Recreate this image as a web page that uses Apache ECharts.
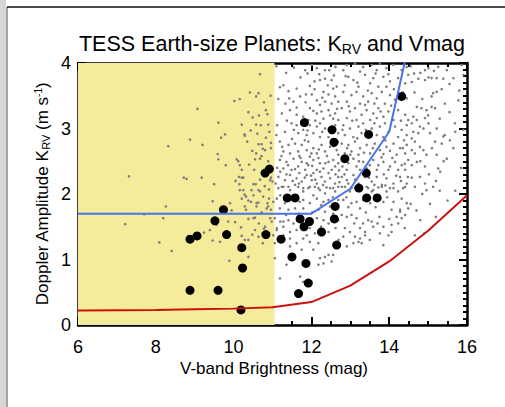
<!DOCTYPE html>
<html><head><meta charset="utf-8">
<script src="https://cdn.jsdelivr.net/npm/echarts@6/dist/echarts.min.js"></script>
<style>html,body{margin:0;padding:0;background:#fff}#c{width:505px;height:407px}</style>
</head><body><div id="c"></div>
<script>
// ---------- DATA ----------
const xTickValues = [6, 8, 10, 12, 14, 16];
const yTickValues = [0, 1, 2, 3, 4];
const shadeRange = [6, 11.05];

const hiresMag = [6, 7, 8, 9, 10, 11, 12, 13, 14, 15];
const hiresK   = [1.7, 1.7, 1.7, 1.7, 1.7, 1.7, 1.7, 2.08, 2.95, 5.6];

const kpfMag = [6, 7, 8, 9, 10, 11, 12, 13, 14, 15, 16];
const kpfK   = [0.22, 0.225, 0.23, 0.24, 0.25, 0.27, 0.35, 0.6, 0.97, 1.44, 1.98];

const earths = [[8.88,1.31],[9.06,1.36],[9.52,1.59],[9.74,1.76],[9.82,1.38],[10.21,1.18],[10.23,0.87],[8.88,0.53],[9.60,0.53],[10.19,0.23],[10.83,1.38],[11.22,1.31],[10.81,2.32],[10.92,2.38],[11.82,3.09],[12.53,2.98],[12.58,2.79],[13.47,2.91],[12.86,2.54],[14.32,3.49],[13.41,2.32],[13.22,2.09],[11.38,1.94],[11.58,1.94],[13.42,1.94],[13.69,1.94],[12.61,1.81],[11.71,1.62],[11.95,1.58],[11.81,1.50],[12.59,1.62],[12.26,1.42],[12.65,1.22],[11.50,1.04],[11.86,0.94],[11.92,0.64],[11.67,0.48]];

const superBright = [[7.21,1.54],[7.70,1.69],[8.26,1.81],[8.19,1.63],[8.09,1.26],[8.41,1.13],[8.32,2.73],[8.88,2.83],[7.31,2.27],[9.07,3.30],[9.20,2.75],[8.72,2.25],[8.79,2.23],[9.18,2.25],[9.24,1.41],[11.06,1.02],[11.11,1.45],
[10.68,3.83],[10.64,3.54],[10.58,3.49],[10.16,3.45],[10.02,3.42],[10.83,3.28],[10.87,3.22],[10.38,3.25],[10.49,3.17],[9.61,3.09],[10.21,3.06],[10.58,3.06],[10.70,3.05],[10.89,3.06],[10.44,2.97],[10.28,2.91],[10.29,2.89],[9.78,2.91],[9.68,2.86],[10.61,2.92],[10.83,2.86],[10.72,2.76],[10.64,2.76],[10.96,2.78],[10.48,2.66],[10.81,2.67],[10.75,2.69],[9.59,2.61],[10.96,2.70],[10.72,2.58],[10.68,2.54],[10.55,2.53],[10.08,2.53],[10.12,2.50],[9.61,2.53],[9.80,2.44],[10.16,2.44],[10.89,2.50],[10.21,2.37],[10.53,2.37],[10.14,2.26],[10.21,2.25],[10.25,2.25],[10.72,2.32],[10.96,2.25],[11.00,2.19],[9.50,2.15],[10.15,2.15],[10.51,2.15],[10.57,2.15],[10.94,2.21],[10.16,2.06],[10.25,2.06],[10.46,2.06],[10.64,2.06],[10.68,2.04],[10.91,2.07],[10.28,1.99],[10.32,1.96],[10.51,1.98],[10.76,1.96],[10.91,1.93],[10.21,1.93],[9.46,1.89],[9.91,1.86],[10.38,1.90],[10.59,1.86],[10.64,1.87],[10.87,1.86],[11.02,1.88],[10.89,1.81],[10.85,1.78],[10.29,1.81],[10.32,1.76],[10.59,1.81],[10.96,1.76],[10.51,1.63],[10.55,1.64],[10.94,1.63],[10.98,1.58],[10.04,1.57],[9.86,1.58],[10.81,1.50],[10.78,1.47],[10.19,1.49],[9.56,1.53],[9.39,1.45],[10.55,1.45],[10.29,1.30],[10.38,1.30],[9.46,1.29],[9.65,1.27],[10.21,1.36],[10.64,1.35],[10.38,1.04],[9.89,0.98],
[10.42,3.55],[10.78,3.40],[10.95,3.50],[10.65,3.20],[10.92,2.95],[10.35,2.80],[10.58,2.62],[10.86,2.40],[10.40,2.45],[10.68,2.22],[10.80,2.12],[10.45,1.88],[10.72,1.72],[10.38,1.62],[10.65,1.55],[10.90,1.40],[10.48,1.38],[10.75,1.25],[10.05,2.20],[9.95,1.75]];

const superMidHigh = [[11.84,3.89],[12.14,3.92],[12.35,3.89],[12.46,3.89],[12.20,3.83],[12.58,3.81],[12.01,3.97],
[11.28,3.66],[11.19,3.63],[12.22,3.74],[12.35,3.76],[12.52,3.74],[11.41,3.57],[11.62,3.61],[11.96,3.65],[12.65,3.64],[12.56,3.61],
[11.71,3.49],[11.86,3.52],[12.01,3.52],[12.31,3.56],[12.44,3.52],[12.61,3.49],[12.14,3.43],[12.35,3.41],[12.52,3.38],[11.54,3.41],[11.43,3.46],[12.22,3.36],[12.69,3.41],
[11.24,3.23],[11.96,3.31],[12.05,3.27],[12.14,3.23],[12.26,3.26],[12.44,3.28],[12.61,3.23],[11.79,3.18],[11.92,3.13],[12.31,3.15],[12.56,3.15],[11.62,3.21],[11.45,3.28],[12.69,3.13],
[11.49,3.08],[11.62,3.05],[11.96,3.05],[12.14,3.03],[12.22,3.08],[12.35,3.00],[12.61,3.05],[11.32,2.95],[11.66,2.93],[11.88,2.90],[12.05,2.93],[12.22,2.87],[12.44,2.87],[12.69,2.93],[11.79,2.98],
[11.19,2.80],[11.41,2.75],[11.58,2.77],[11.75,2.75],[11.92,2.80],[12.05,2.70],[12.26,2.75],[12.35,2.65],[12.65,2.67],[11.28,2.65],[11.45,2.62],[11.66,2.65],[11.88,2.67],[12.14,2.62],[12.48,2.72],[12.69,2.60],
[11.19,2.52],[11.36,2.49],[11.54,2.54],[11.75,2.49],[11.92,2.44],[12.05,2.52],[12.22,2.47],[12.31,2.39],[12.44,2.49],[12.61,2.42],[11.28,2.39],[11.49,2.37],[11.66,2.42],[11.84,2.37],[12.14,2.37],[12.52,2.37],[12.69,2.47],[11.96,2.57],
[11.15,2.26],[11.32,2.21],[11.45,2.29],[11.62,2.24],[11.75,2.19],[11.88,2.29],[12.01,2.21],[12.14,2.16],[12.26,2.26],[12.35,2.19],[12.48,2.24],[12.61,2.16],[12.69,2.26],[11.24,2.11],[11.41,2.11],[11.58,2.14],[11.79,2.09],[11.96,2.11],[12.18,2.09],[12.39,2.10],[12.56,2.09],[12.05,2.32],[12.22,2.34],[11.69,2.32],
[11.10,3.95],[11.35,3.85],[11.55,3.93],[11.72,3.78],[11.90,3.84],[12.08,3.72],[12.42,3.66],[12.62,3.94],
[11.15,3.45],[11.33,3.38],[11.62,3.32],[11.85,3.40],[12.08,3.60],[12.28,3.47],[12.48,3.20],[12.66,3.30],
[11.12,3.05],[11.37,3.12],[11.55,2.98],[11.74,3.06],[11.90,2.97],[12.10,3.12],[12.28,2.95],[12.50,3.02],[12.68,2.80],
[11.10,2.90],[11.25,2.72],[11.50,2.84],[11.69,2.58],[11.83,2.82],[12.00,2.62],[12.19,2.68],[12.40,2.58],[12.57,2.73],
[11.12,2.40],[11.23,2.58],[11.40,2.44],[11.58,2.38],[11.72,2.55],[11.88,2.47],[12.02,2.43],[12.18,2.55],[12.36,2.47],[12.56,2.52],[12.71,2.36],
[11.08,2.16],[11.20,2.34],[11.36,2.30],[11.52,2.20],[11.68,2.16],[11.83,2.25],[11.99,2.28],[12.10,2.22],[12.30,2.14],[12.44,2.32],[12.62,2.30],[12.72,2.18]];

const superFaintHigh = [[12.91,3.97],[13.12,3.99],[13.33,3.94],[13.55,3.97],[13.76,3.99],[13.93,3.92],[14.11,3.97],[14.32,3.89],[12.82,3.89],[13.25,3.87],[13.68,3.89],[14.45,3.94],
[12.95,3.79],[13.08,3.74],[13.38,3.82],[13.59,3.77],[13.85,3.79],[14.02,3.72],[14.23,3.77],[12.86,3.66],[13.21,3.64],[13.51,3.69],[13.72,3.64],[13.93,3.64],[14.41,3.69],[14.49,3.82],
[12.82,3.56],[13.03,3.51],[13.16,3.56],[13.33,3.49],[13.55,3.54],[13.68,3.46],[13.81,3.56],[14.02,3.51],[14.15,3.44],[14.45,3.46],[12.91,3.41],[13.25,3.38],[13.46,3.41],[13.89,3.38],
[12.78,3.31],[12.99,3.26],[13.12,3.31],[13.29,3.21],[13.42,3.28],[13.59,3.23],[13.72,3.31],[13.85,3.18],[13.98,3.26],[14.23,3.28],[14.41,3.21],[12.91,3.16],[13.16,3.13],[13.51,3.13],[13.68,3.16],[14.11,3.13],[14.49,3.13],
[12.82,3.05],[12.99,3.00],[13.21,3.03],[13.33,3.08],[13.55,3.00],[13.76,3.03],[13.89,3.08],[14.15,3.03],[14.32,2.98],[14.45,3.05],[12.86,2.90],[13.08,2.87],[13.29,2.93],[13.68,2.90],[13.85,2.87],[14.23,2.87],[14.45,2.90],[13.46,2.87],
[12.78,2.77],[12.95,2.75],[13.12,2.80],[13.25,2.70],[13.42,2.75],[13.63,2.77],[13.76,2.67],[13.93,2.72],[14.11,2.77],[14.28,2.70],[14.45,2.75],[12.86,2.62],[13.03,2.65],[13.51,2.62],[13.85,2.61],[14.19,2.60],[14.41,2.62],[13.21,2.60],
[12.82,2.52],[12.95,2.47],[13.08,2.54],[13.16,2.42],[13.33,2.49],[13.59,2.52],[13.72,2.44],[13.85,2.49],[14.02,2.42],[14.15,2.49],[14.32,2.44],[14.49,2.52],[12.91,2.37],[13.25,2.37],[13.42,2.39],[13.68,2.37],[13.98,2.37],[14.23,2.37],[14.41,2.37],
[12.78,2.26],[12.91,2.21],[13.08,2.29],[13.21,2.16],[13.38,2.26],[13.55,2.19],[13.68,2.26],[13.81,2.14],[13.93,2.24],[14.11,2.16],[14.28,2.26],[14.45,2.16],[12.86,2.11],[13.03,2.09],[13.46,2.09],[13.72,2.10],[14.02,2.09],[14.36,2.09],[13.29,2.11],
[12.88,3.80],[13.18,3.70],[13.45,3.58],[13.65,3.84],[13.98,3.83],[14.12,3.60],[14.35,3.55],
[12.96,3.34],[13.38,3.36],[13.62,3.38],[13.78,3.26],[14.05,3.35],[14.30,3.12],
[12.80,2.98],[13.05,3.12],[13.40,2.98],[13.62,3.08],[13.98,2.95],[14.38,2.82],
[12.92,2.70],[13.18,2.85],[13.35,2.63],[13.58,2.70],[13.90,2.82],[14.02,2.66],[14.35,2.70],
[12.80,2.42],[13.00,2.60],[13.22,2.50],[13.50,2.44],[13.80,2.56],[14.08,2.55],[14.40,2.46],
[12.85,2.30],[13.12,2.22],[13.32,2.33],[13.48,2.25],[13.62,2.14],[13.86,2.30],[14.18,2.28],[14.48,2.26],
[12.95,2.16],[13.15,2.06],[13.55,2.04],[13.90,2.13],[14.30,2.20]];

const superFaintest = [[14.58,4.02],[14.71,4.01],[14.92,3.89],[15.01,3.92],[15.26,3.94],[15.48,3.89],[15.65,4.02],[15.86,3.97],[14.64,3.84],[14.75,3.76],[14.92,3.74],[15.01,3.78],[15.09,3.77],[15.22,3.77],[15.39,3.76],[15.65,3.77],[14.58,3.71],[15.13,3.54],[15.09,3.49],[15.22,3.56],[15.43,3.38],[15.78,3.43],[14.71,3.33],[14.83,3.31],[14.96,3.28],[15.09,3.33],[15.18,3.31],[14.62,3.18],[14.71,3.13],[14.92,3.16],[15.69,3.08],[14.58,3.08],[14.79,3.03],[14.88,3.00],[15.01,3.08],[15.22,3.00],[14.75,2.93],[15.05,2.93],[15.39,2.88],[15.43,2.90],[15.91,2.98],[14.58,2.85],[14.66,2.80],[15.18,2.80],[15.35,2.77],[15.56,2.82],[14.79,2.72],[14.88,2.67],[15.65,2.70],[14.58,2.67],[14.66,2.62],[14.96,2.60],[15.22,2.60],[15.48,2.54],[14.71,2.49],[14.92,2.42],[15.26,2.39],[15.31,2.34],[14.79,2.26],[14.92,2.16],[14.66,2.11],[15.13,2.11],[14.58,2.44],[15.91,3.82],
[14.40,1.48],[14.66,1.37],[14.80,1.60],[14.96,2.06],[14.70,1.75],[14.90,1.40],[15.20,1.65],[15.50,1.90],[15.30,2.05],[14.85,2.00],[14.55,1.85],[15.05,1.85],[15.70,2.05],
[14.55,3.95],[14.80,3.85],[15.15,3.88],[15.35,3.60],[15.55,3.68],[15.80,3.58],[14.65,3.55],[14.85,3.45],[15.00,3.20],[15.30,3.15],[15.55,3.25],[14.62,2.95],[15.10,2.70],[15.70,2.95],[14.80,2.50],[15.40,2.50],[15.02,2.30],[14.58,2.25],[15.85,2.40],[15.20,2.20]];

const superLow = [[11.15,2.09],[11.28,2.11],[11.45,2.06],[11.66,2.11],[11.79,2.04],[11.92,2.09],[12.09,2.11],[12.22,2.06],[12.35,2.01],[12.48,2.09],[12.61,2.04],[12.69,2.11],[11.11,1.93],[11.32,1.86],[11.79,1.91],[11.96,1.86],[12.14,1.93],[12.31,1.88],[12.44,1.91],[12.69,1.91],[11.19,1.78],[11.41,1.76],[11.58,1.78],[11.79,1.78],[12.18,1.76],[12.35,1.73],[12.48,1.81],[11.06,1.63],[11.28,1.58],[11.41,1.60],[11.54,1.55],[12.14,1.63],[12.31,1.60],[12.44,1.55],[12.69,1.60],[11.11,1.48],[11.28,1.50],[11.45,1.42],[11.62,1.45],[11.96,1.48],[12.09,1.40],[12.44,1.42],[11.79,1.32],[11.45,1.32],[11.28,1.37],[11.88,1.37],[11.62,1.25],[11.75,1.15],[11.45,1.20],[11.06,1.25],[12.18,1.25],[12.35,1.04],[12.22,1.02],[12.44,1.07],[12.52,0.97],[12.31,0.94],[12.56,1.07],[11.36,0.92],[11.19,0.71],[11.71,0.74],[11.79,0.66],[12.18,0.92],[11.02,1.37],[11.96,1.27],
[12.78,2.11],[12.99,2.04],[13.12,2.09],[13.42,2.11],[13.59,2.06],[13.81,2.11],[13.93,2.04],[14.11,2.09],[14.23,2.04],[14.41,2.11],[12.82,1.91],[13.03,1.86],[13.16,1.88],[13.33,1.91],[13.51,1.86],[13.85,1.88],[14.11,1.88],[14.32,1.93],[14.45,1.86],[12.78,1.68],[12.91,1.65],[13.03,1.68],[13.16,1.63],[13.46,1.60],[14.06,1.76],[14.28,1.76],[14.19,1.65],[14.41,1.68],[12.86,1.48],[12.99,1.42],[13.33,1.55],[13.25,1.48],[13.55,1.58],[13.38,1.42],[13.59,1.50],[13.85,1.50],[14.06,1.53],[14.32,1.63],[12.82,1.35],[13.12,1.35],[13.25,1.32],[13.38,1.37],[13.76,1.40],[13.98,1.37],[14.06,1.42],[13.08,1.25],[13.21,1.27],[13.29,1.25],[12.91,1.20],[13.85,1.22],[14.23,1.55],[14.28,1.73],[14.49,1.78],
[11.20,1.98],[11.50,1.95],[11.70,1.88],[12.05,1.98],[12.25,1.83],[12.55,1.95],[12.90,1.95],[13.25,1.78],[13.65,1.80],[13.95,1.95],
[11.35,1.68],[11.68,1.70],[12.02,1.72],[12.56,1.70],[12.95,1.80],[13.40,1.72],[13.75,1.65],[14.00,1.62],
[11.20,1.58],[11.90,1.52],[12.25,1.50],[12.62,1.48],[13.10,1.55],[13.70,1.55],
[11.55,1.05],[12.05,1.15],[12.70,1.30],[13.50,1.30]];

const superEarths = [].concat(superBright, superMidHigh, superFaintHigh, superFaintest, superLow);

// ---------- CHART ----------
const FONT = '"Liberation Sans", Arial, sans-serif';
echarts.registerTheme('tess', {
  color: ['#f4eb9b', '#7d7d7d', '#4a72ec', '#cc1111', '#000000'],
  scatter: {itemStyle: {opacity: 1}}
});
const chart = echarts.init(document.getElementById('c'), 'tess', {renderer: 'svg'});
const zip = (a, b) => a.map((v, i) => [v, b[i]]);
const yTop = yTickValues[yTickValues.length - 1];
const yBottom = yTickValues[0];

function makeAxis(kind, position, showLabel) {
  const isX = kind === 'x';
  const ticks = isX ? xTickValues : yTickValues;
  return {
    type: 'value', position: position,
    min: ticks[0], max: ticks[ticks.length - 1], interval: ticks[1] - ticks[0],
    axisLine: {show: true, onZero: false, lineStyle: {color: '#000', width: 2.5}},
    axisTick: {show: true, inside: true, length: 8, lineStyle: {color: '#000', width: 2}},
    minorTick: {show: true, splitNumber: isX ? 4 : 10, length: 4, lineStyle: {color: '#000', width: 2}},
    splitLine: {show: false},
    minorSplitLine: {show: false},
    axisLabel: {show: showLabel, margin: isX ? 13 : 7, color: '#000', fontSize: 18, fontFamily: FONT,
      formatter: v => String(v)}
  };
}

chart.setOption({
  animation: false,
  grid: {left: 78, right: 38, top: 63, bottom: 82},
  xAxis: [makeAxis('x', 'bottom', true), makeAxis('x', 'top', false)],
  yAxis: [makeAxis('y', 'left', true), makeAxis('y', 'right', false)],
  series: [
    {type: 'custom', name: 'Bright', data: [[shadeRange[0], shadeRange[1], yBottom, yTop]],
     encode: {x: [0, 1], y: [2, 3]},
     renderItem: function (params, api) {
       const a = api.coord([api.value(0), api.value(3)]);
       const b = api.coord([api.value(1), api.value(2)]);
       return {type: 'rect', shape: {x: a[0], y: a[1], width: b[0] - a[0], height: b[1] - a[1]},
               style: {fill: api.visual('color')}};
     }},
    {type: 'scatter', name: 'Super-Earths', data: superEarths, symbolSize: 2.6},
    {type: 'line', name: 'HIRES', data: zip(hiresMag, hiresK), symbol: 'none'},
    {type: 'line', name: 'KPF', data: zip(kpfMag, kpfK), symbol: 'none'},
    {type: 'scatter', name: 'Earths', data: earths, symbolSize: 9}
  ],
  graphic: [
    {type: 'rect', left: 0, top: 0, shape: {width: 6, height: 407}, style: {fill: '#d6d6d6'}},
    {type: 'line', shape: {x1: 7, y1: 7, x2: 7, y2: 407}, style: {stroke: '#666', lineWidth: 1.2}},
    {type: 'line', shape: {x1: 7, y1: 7, x2: 505, y2: 7}, style: {stroke: '#111', lineWidth: 1.5}},
    {type: 'text', x: 272, y: 44, style: {
      text: '{m|TESS Earth-size Planets: K}{s|RV}{m| and Vmag}', align: 'center', verticalAlign: 'middle',
      rich: {m: {fontSize: 21.5, fontFamily: FONT, fill: '#000'},
             s: {fontSize: 14, fontFamily: FONT, fill: '#000', padding: [10, 0, 0, 0]}}}},
    {type: 'text', x: 42, y: 194, rotation: Math.PI / 2, style: {
      text: '{m|Doppler Amplitude K}{s|RV}{m| (m s}{p|-1}{m|)}', align: 'center', verticalAlign: 'middle',
      rich: {m: {fontSize: 17, fontFamily: FONT, fill: '#000'},
             s: {fontSize: 11, fontFamily: FONT, fill: '#000', padding: [8, 0, 0, 0]},
             p: {fontSize: 10, fontFamily: FONT, fill: '#000', padding: [0, 0, 8, 0]}}}},
    {type: 'text', x: 274, y: 368, style: {
      text: 'V-band Brightness (mag)', align: 'center', verticalAlign: 'middle',
      font: '17px ' + FONT, fill: '#000'}},
    {type: 'text', x: 89, y: 77, style: {
      text: '{m|Super-Earths (1.5-4.0 R}{s|E}{m|)}', align: 'left', verticalAlign: 'middle',
      rich: {m: {fontSize: 13, fontWeight: 'bold', fontFamily: 'Lato, sans-serif', fill: '#7a7a7a'},
             s: {fontSize: 9, fontWeight: 'bold', fontFamily: 'Lato, sans-serif', fill: '#7a7a7a', padding: [4, 0, 0, 0]}}}},
    {type: 'text', x: 89, y: 97, style: {
      text: '{m|Earths (0.75-1.5 R}{s|E}{m|)}', align: 'left', verticalAlign: 'middle',
      rich: {m: {fontSize: 13, fontWeight: 'bold', fontFamily: 'Lato, sans-serif', fill: '#111'},
             s: {fontSize: 9, fontWeight: 'bold', fontFamily: 'Lato, sans-serif', fill: '#111', padding: [4, 0, 0, 0]}}}},
    {type: 'text', x: 94, y: 207, style: {
      text: 'HIRES', align: 'left', verticalAlign: 'middle', font: '10px ' + FONT, fill: '#4a72ec'}},
    {type: 'text', x: 97, y: 290, style: {
      text: 'KPF', align: 'left', verticalAlign: 'middle', font: '14px ' + FONT, fill: '#cc1111'}}
  ]
});
</script>
</body></html>
